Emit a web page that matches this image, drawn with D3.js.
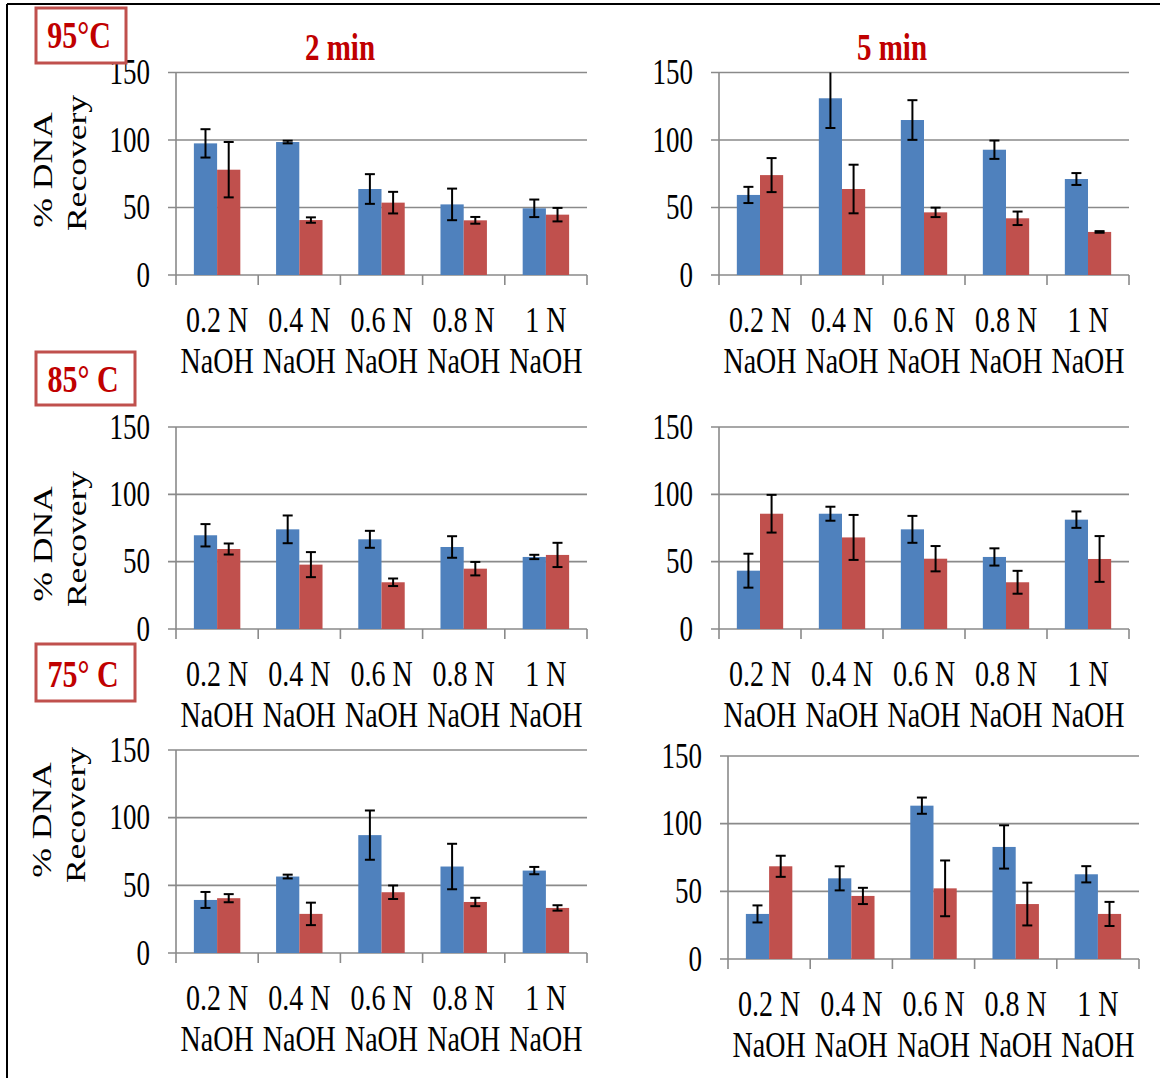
<!DOCTYPE html>
<html>
<head>
<meta charset="utf-8">
<script src="https://cdn.jsdelivr.net/npm/d3@7"></script>
<style>
  html, body { margin: 0; padding: 0; background: #fff; }
  svg { display: block; }
  text { font-family: "Liberation Serif", "Times New Roman", serif; }
</style>
</head>
<body>
<svg id="chart" width="1160" height="1078"></svg>
<script>
// ---------------- DATA ----------------
const catLine1 = ["0.2 N", "0.4 N", "0.6 N", "0.8 N", "1 N"];
const catLine2 = ["NaOH", "NaOH", "NaOH", "NaOH", "NaOH"];
const yTicks = [0, 50, 100, 150];
const tempLabels = ["95°C", "85° C", "75° C"];
const timeLabels = ["2 min", "5 min"];
const yTitle = ["% DNA", "Recovery"];

// 95 °C
const blue95_2 = [97.5, 98.5, 63.7, 52.3, 49.4];
const blueErr95_2 = [10.5, 1, 11, 11.7, 6.5];
const red95_2 = [78, 40.7, 53.6, 40.5, 44.7];
const redErr95_2 = [20.5, 2, 8, 2.5, 5];
const blue95_5 = [59.3, 130.9, 114.8, 92.8, 71.1];
const blueErr95_5 = [6, 22, 14.7, 6.8, 4.4];
const red95_5 = [74, 63.7, 46.4, 42, 31.9];
const redErr95_5 = [12.6, 18, 3.5, 5, 0.6];
// 85 °C
const blue85_2 = [69.6, 74, 66.6, 60.9, 53.5];
const blueErr85_2 = [8.3, 10.3, 6.3, 8, 1.6];
const red85_2 = [59.4, 47.8, 34.7, 44.8, 55];
const redErr85_2 = [4.1, 9.3, 2.8, 5, 9];
const blue85_5 = [43.3, 85.6, 74, 53.5, 81.2];
const blueErr85_5 = [12.6, 5.2, 10, 6.4, 6.1];
const red85_5 = [85.6, 68, 52.2, 34.7, 52];
const redErr85_5 = [14, 16.7, 9.4, 8.5, 17];
// 75 °C
const blue75_2 = [39.2, 56.5, 87.1, 63.9, 60.9];
const blueErr75_2 = [5.9, 1.4, 18.2, 16.8, 2.7];
const red75_2 = [40.5, 28.9, 44.9, 37.7, 33.3];
const redErr75_2 = [3, 8.3, 5, 3.1, 2];
const blue75_5 = [33.3, 59.6, 113.3, 82.8, 62.6];
const blueErr75_5 = [6.3, 8.9, 6, 16, 6];
const red75_5 = [68.5, 46.6, 52.2, 40.6, 33.3];
const redErr75_5 = [7.8, 6, 20.6, 15.8, 8.9];

// ---------------- LAYOUT ----------------
const COL_BLUE = "#4f81bd", COL_RED = "#c0504d";
const GRID = "#8a8a8a";
const TITLE_RED = "#c00000";
const SY = 1.3; // vertical stretch of the original picture's text

const panels = [
  {x0: 176, x1: 587, yTop: 72.5, yBot: 275, blue: blue95_2, bErr: blueErr95_2, red: red95_2, rErr: redErr95_2},
  {x0: 719, x1: 1129, yTop: 72.5, yBot: 275, blue: blue95_5, bErr: blueErr95_5, red: red95_5, rErr: redErr95_5},
  {x0: 176, x1: 587, yTop: 427, yBot: 629, blue: blue85_2, bErr: blueErr85_2, red: red85_2, rErr: redErr85_2},
  {x0: 719, x1: 1129, yTop: 427, yBot: 629, blue: blue85_5, bErr: blueErr85_5, red: red85_5, rErr: redErr85_5},
  {x0: 176, x1: 587, yTop: 750, yBot: 953, blue: blue75_2, bErr: blueErr75_2, red: red75_2, rErr: redErr75_2},
  {x0: 728, x1: 1139, yTop: 756, yBot: 959, blue: blue75_5, bErr: blueErr75_5, red: red75_5, rErr: redErr75_5}
];

const svg = d3.select("#chart");

// outer frame (left + top)
svg.append("line").attr("x1", 7).attr("x2", 7).attr("y1", 4).attr("y2", 1078)
  .attr("stroke", "#000").attr("stroke-width", 2);
svg.append("line").attr("x1", 7).attr("x2", 1160).attr("y1", 4).attr("y2", 4)
  .attr("stroke", "#000").attr("stroke-width", 2);

function stretchedText(g, x, y, txt, opts) {
  const t = g.append("g").attr("transform", `translate(${x},${y}) scale(1,${opts.sy || SY})${opts.rot ? " rotate(-90)" : ""}`)
    .append("text")
    .attr("x", 0).attr("y", 0)
    .attr("text-anchor", opts.anchor || "middle")
    .attr("font-size", opts.size || 28)
    .attr("font-weight", opts.weight || "normal")
    .attr("fill", opts.fill || "#000")
    .text(txt);
  return t;
}

panels.forEach(p => {
  const g = svg.append("g");
  const y = d3.scaleLinear().domain([0, 150]).range([p.yBot, p.yTop]);
  const x = d3.scaleBand().domain(catLine1).range([p.x0, p.x1]).padding(0);
  const xs = d3.scaleBand().domain(["blue", "red"]).range([0, x.bandwidth()])
    .paddingInner(0).paddingOuter(0.77);

  // gridlines (with outward tick marks)
  g.selectAll("line.grid").data(yTicks).join("line")
    .attr("class", "grid")
    .attr("x1", p.x0 - 8).attr("x2", p.x1)
    .attr("y1", d => y(d)).attr("y2", d => y(d))
    .attr("stroke", GRID).attr("stroke-width", 1.6);

  // vertical axis line
  g.append("line").attr("x1", p.x0).attr("x2", p.x0)
    .attr("y1", y(150)).attr("y2", y(0))
    .attr("stroke", GRID).attr("stroke-width", 1.6);

  // category tick marks at band boundaries
  const bounds = catLine1.map(c => x(c)).concat([x(catLine1[catLine1.length - 1]) + x.bandwidth()]);
  g.selectAll("line.ctick").data(bounds).join("line")
    .attr("class", "ctick")
    .attr("x1", d => d).attr("x2", d => d)
    .attr("y1", y(0)).attr("y2", y(0) + 10)
    .attr("stroke", GRID).attr("stroke-width", 1.6);

  // y tick labels
  yTicks.forEach(v => {
    stretchedText(g, p.x0 - 26, y(v) + 11.5, String(v), {anchor: "end", size: 27});
  });

  // category labels
  catLine1.forEach((c, i) => {
    const cx = x(c) + x.bandwidth() / 2;
    stretchedText(g, cx, y(0) + 57, c, {size: 28});
    stretchedText(g, cx, y(0) + 98, catLine2[i], {size: 28});
  });

  // bars
  const series = [
    {key: "blue", vals: p.blue, errs: p.bErr, color: COL_BLUE},
    {key: "red", vals: p.red, errs: p.rErr, color: COL_RED}
  ];
  series.forEach(s => {
    g.selectAll(null).data(s.vals).join("rect")
      .attr("x", (d, i) => x(catLine1[i]) + xs(s.key))
      .attr("width", xs.bandwidth())
      .attr("y", d => y(d))
      .attr("height", d => y(0) - y(d))
      .attr("fill", s.color);
  });
  // error bars
  series.forEach(s => {
    s.vals.forEach((v, i) => {
      const cx = x(catLine1[i]) + xs(s.key) + xs.bandwidth() / 2;
      const hi = v + s.errs[i], lo = v - s.errs[i];
      const clipped = hi > 150;
      const yHi = y(Math.min(hi, 150)), yLo = y(lo);
      g.append("line").attr("x1", cx).attr("x2", cx).attr("y1", yHi).attr("y2", yLo)
        .attr("stroke", "#000").attr("stroke-width", 2);
      if (!clipped) {
        g.append("line").attr("x1", cx - 5).attr("x2", cx + 5).attr("y1", yHi).attr("y2", yHi)
          .attr("stroke", "#000").attr("stroke-width", 2);
      }
      g.append("line").attr("x1", cx - 5).attr("x2", cx + 5).attr("y1", yLo).attr("y2", yLo)
        .attr("stroke", "#000").attr("stroke-width", 2);
    });
  });
});

// y axis titles (left column only)
const yTitlePos = [
  {x1: 52, c1: 170, x2: 86, c2: 163},
  {x1: 52, c1: 544, x2: 86, c2: 539},
  {x1: 51, c1: 820, x2: 85, c2: 815}
];
yTitlePos.forEach(t => {
  stretchedText(svg, t.x1, t.c1, yTitle[0], {size: 28, rot: true, sy: 1.27});
  stretchedText(svg, t.x2, t.c2, yTitle[1], {size: 28, rot: true, sy: 1.27});
});

// temperature boxes
const boxes = [
  {x: 36, y: 8, w: 90, h: 55, tx: 79, ty: 48},
  {x: 36, y: 352, w: 99, h: 53, tx: 83, ty: 392},
  {x: 36, y: 644, w: 99, h: 57, tx: 83, ty: 687}
];
boxes.forEach((b, i) => {
  svg.append("rect").attr("x", b.x).attr("y", b.y).attr("width", b.w).attr("height", b.h)
    .attr("fill", "#fff").attr("stroke", "#c0504d").attr("stroke-width", 3);
  stretchedText(svg, b.tx, b.ty, tempLabels[i], {size: 30, weight: "bold", fill: TITLE_RED, sy: 1.25});
});

// time titles
stretchedText(svg, 340, 60, timeLabels[0], {size: 29, weight: "bold", fill: TITLE_RED, sy: 1.28});
stretchedText(svg, 892, 60, timeLabels[1], {size: 29, weight: "bold", fill: TITLE_RED, sy: 1.28});
</script>
</body>
</html>
